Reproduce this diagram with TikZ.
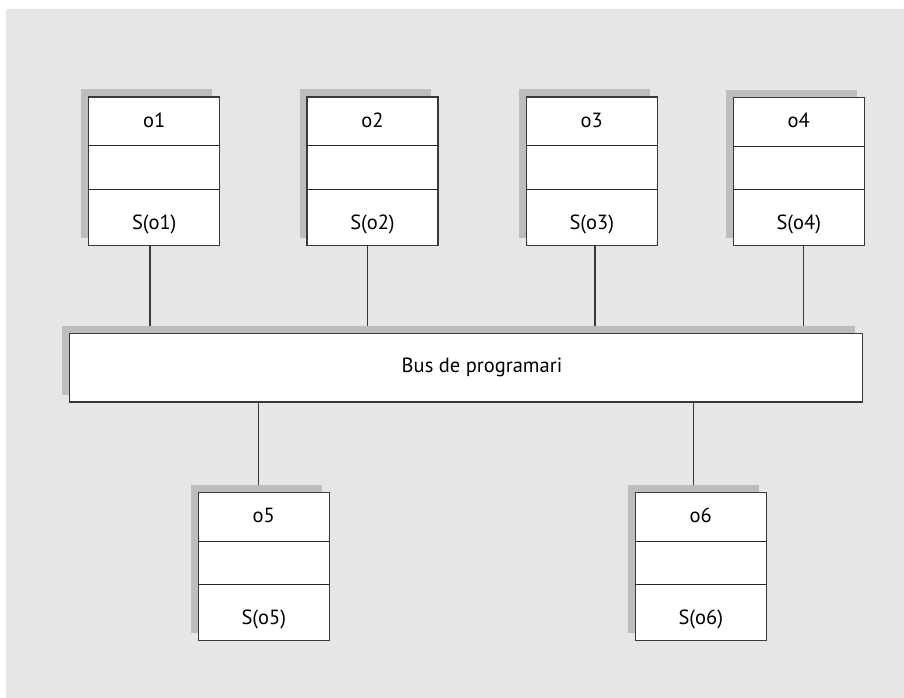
\documentclass[tikz,border=0pt]{standalone}
\usepackage{fontspec}
\setmainfont{PT Sans}
\usetikzlibrary{shadows}
\definecolor{panelgray}{HTML}{E6E6E6}
\definecolor{shadowgray}{HTML}{BDBDBD}
\definecolor{edgegray}{HTML}{383838}
\begin{document}
\begin{tikzpicture}[x=1pt,y=-1pt,
  objbox/.style={draw=edgegray, line width=1.2pt, fill=white,
    minimum width=131pt, minimum height=148.5pt, inner sep=0pt,
    general shadow={fill=shadowgray, shadow xshift=-7.5pt, shadow yshift=7.5pt}},
  divider/.style={draw=black!85, line width=1pt},
  wire/.style={draw=edgegray, line width=1.2pt},
  lbl/.style={font=\fontsize{20.5}{24}\selectfont, text=black, inner sep=0pt}]

% canvas and grey panel
\useasboundingbox (0,0) rectangle (904,698);
\fill[panelgray] (6,9) rectangle (904,698);

% object boxes: name, empty middle part, state
\foreach \n/\x/\y in {1/88.7/97, 2/307/97, 3/526.3/97, 4/733.3/97.3,
                      5/198.3/492.3, 6/635.3/492.3} {
  \node[objbox] (o\n) at (\x+65.5,\y+74.25) {};
  \draw[divider] ([yshift=-49.5pt]o\n.north west) -- ([yshift=-49.5pt]o\n.north east);
  \draw[divider] ([yshift=-93pt]o\n.north west) -- ([yshift=-93pt]o\n.north east);
  \node[lbl] (name\n) at ([yshift=-24pt]o\n.north) {o\n};
  \node[lbl] (state\n) at ([yshift=-128pt]o\n.north) {S(o\n)};
}

% software bus
\node[objbox, minimum width=793pt, minimum height=68.7pt] (bus) at (465.8,367.7) {};
\node[lbl] (buslabel) at (482,367) {Bus de programari};

% attachment points on the bus
\coordinate (t1) at (150,325.7);
\coordinate (t2) at (367.3,325.7);
\coordinate (t3) at (595,325.7);
\coordinate (t4) at (803.7,325.7);
\coordinate (t5) at (258.3,485);
\coordinate (t6) at (693.7,485);

\foreach \n in {1,2,3,4} {
  \draw[wire] (o\n.south -| t\n) -- (t\n);
}
\foreach \n in {5,6} {
  \draw[wire] (bus.south -| t\n) -- (t\n);
}
\end{tikzpicture}
\end{document}
